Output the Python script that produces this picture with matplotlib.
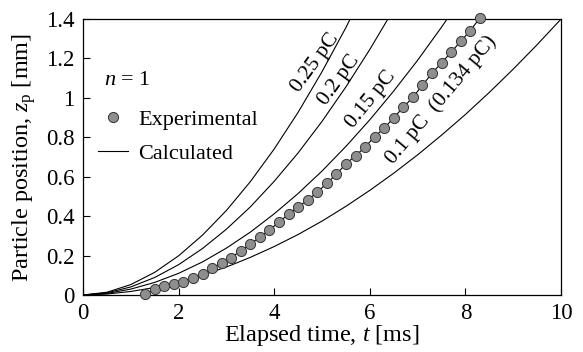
"""Particle position vs elapsed time: experiment and calculated curves."""

import matplotlib

matplotlib.use("Agg")
import matplotlib.pyplot as plt
from matplotlib.lines import Line2D
from matplotlib.ticker import FormatStrFormatter

plt.rcParams["font.family"] = ["Liberation Serif", "DejaVu Serif"]
plt.rcParams["mathtext.fontset"] = "custom"
plt.rcParams["mathtext.rm"] = "Liberation Serif"
plt.rcParams["mathtext.it"] = "Liberation Serif:italic"

# ---- data ---------------------------------------------------------------
# experimental points [ms], [mm]
exp_t = [1.3, 1.5, 1.7, 1.9, 2.1, 2.3, 2.5, 2.7, 2.9, 3.1, 3.3, 3.5,
         3.7, 3.9, 4.1, 4.3, 4.5, 4.7, 4.9, 5.1, 5.3, 5.5, 5.7, 5.9,
         6.1, 6.3, 6.5, 6.7, 6.9, 7.1, 7.3, 7.5, 7.7, 7.9, 8.1, 8.3]
exp_z = [0.005, 0.030, 0.045, 0.055, 0.067, 0.084, 0.105, 0.135, 0.162,
         0.190, 0.224, 0.258, 0.293, 0.330, 0.370, 0.410, 0.447, 0.482,
         0.522, 0.567, 0.613, 0.665, 0.707, 0.750, 0.804, 0.846, 0.900,
         0.952, 1.003, 1.064, 1.125, 1.178, 1.231, 1.287, 1.341, 1.405]

# calculated curves
calc_t_025 = [0, 0.5, 1.0, 1.5, 2.0, 2.5, 3.0, 3.5, 4.0, 4.5, 5.0, 5.5, 6.0]
calc_z_025 = [0, 0.014, 0.053, 0.115, 0.199, 0.304, 0.429, 0.575, 0.741,
              0.927, 1.133, 1.357, 1.602]

calc_t_020 = [0, 0.5, 1.0, 1.5, 2.0, 2.5, 3.0, 3.5, 4.0, 4.5, 5.0, 5.5, 6.0, 6.5]
calc_z_020 = [0, 0.011, 0.041, 0.089, 0.154, 0.236, 0.334, 0.447, 0.577,
              0.721, 0.881, 1.056, 1.246, 1.450]

calc_t_015 = [0, 0.5, 1.0, 1.5, 2.0, 2.5, 3.0, 3.5, 4.0, 4.5, 5.0, 5.5, 6.0,
              6.5, 7.0, 7.5, 8.0]
calc_z_015 = [0, 0.008, 0.030, 0.064, 0.110, 0.168, 0.238, 0.319, 0.412,
              0.515, 0.629, 0.754, 0.889, 1.035, 1.191, 1.359, 1.536]

calc_t_010 = [0, 0.5, 1.0, 1.5, 2.0, 2.5, 3.0, 3.5, 4.0, 4.5, 5.0, 5.5, 6.0,
              6.5, 7.0, 7.5, 8.0, 8.5, 9.0, 9.5, 10.0]
calc_z_010 = [0, 0.005, 0.018, 0.038, 0.066, 0.101, 0.142, 0.191, 0.246,
              0.307, 0.375, 0.450, 0.531, 0.618, 0.711, 0.811, 0.916,
              1.028, 1.146, 1.270, 1.400]

curve_labels = ["0.25 pC", "0.2 pC", "0.15 pC", "0.1 pC  (0.134 pC)"]

# ---- plot ---------------------------------------------------------------
fig = plt.figure(figsize=(5.83, 3.52), dpi=100)
ax = fig.add_axes([0.1424, 0.1619, 0.82, 0.7841])

for t, z in [(calc_t_025, calc_z_025), (calc_t_020, calc_z_020),
             (calc_t_015, calc_z_015), (calc_t_010, calc_z_010)]:
    ax.plot(t, z, color="black", lw=0.8)

ax.plot(exp_t, exp_z, color="black", lw=0.8, marker="o", markersize=7.3,
        markerfacecolor="#8e8e8e", markeredgecolor="#333333",
        markeredgewidth=0.7, clip_on=False, zorder=3)

# rotated curve labels
label_pos = [(4.85, 1.18, 54), (5.36, 1.09, 54), (6.03, 0.99, 51), (7.5, 0.99, 50)]
for text, (x, y, rot) in zip(curve_labels, label_pos):
    ax.text(x, y, text, rotation=rot, rotation_mode="anchor",
            ha="center", va="center", fontsize=15.5)

# legend
ax.text(0.44, 1.09, "$n$ = 1", fontsize=16, ha="left", va="center")
handles = [
    Line2D([], [], ls="none", marker="o", markersize=7.3,
           markerfacecolor="#8e8e8e", markeredgecolor="#333333",
           markeredgewidth=0.7),
    Line2D([], [], color="black", lw=0.8),
]
ax.legend(handles, ["Experimental", "Calculated"], loc="upper left",
          bbox_to_anchor=(0.031, 0.672), frameon=False, fontsize=16,
          handlelength=1.36, handletextpad=0.45, labelspacing=0.59,
          borderaxespad=0.0, borderpad=0.0)

ax.set_xlim(0, 10)
ax.set_ylim(0, 1.4)
ax.set_xticks([0, 2, 4, 6, 8, 10])
ax.set_yticks([0, 0.2, 0.4, 0.6, 0.8, 1.0, 1.2, 1.4])
ax.yaxis.set_major_formatter(FormatStrFormatter("%g"))
ax.tick_params(direction="in", length=5, width=0.8, labelsize=16.5, pad=6)
for s in ax.spines.values():
    s.set_linewidth(0.9)

ax.set_xlabel("Elapsed time, $t$ [ms]", fontsize=17.5, labelpad=-1)
ax.set_ylabel("Particle position, $z_\\mathrm{p}$ [mm]", fontsize=17.5, labelpad=6)

fig.savefig("out.png", dpi=100)
